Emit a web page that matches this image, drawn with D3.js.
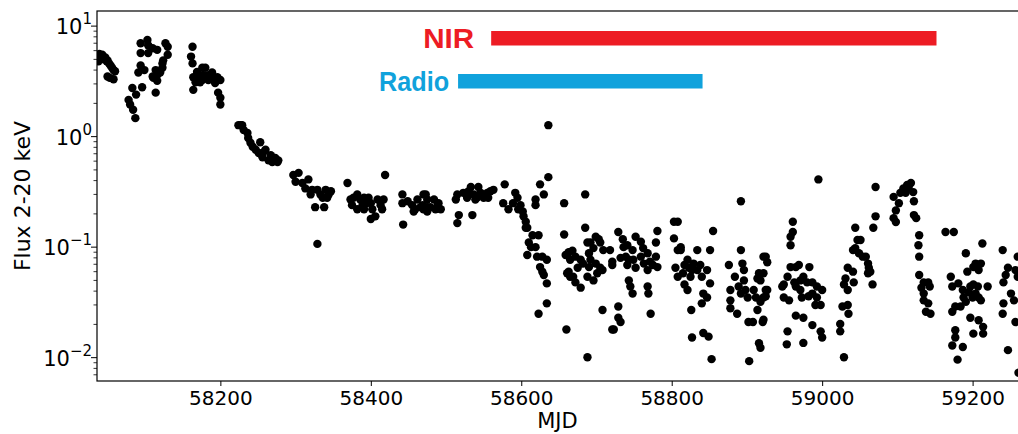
<!DOCTYPE html>
<html>
<head>
<meta charset="utf-8">
<script src="https://cdn.jsdelivr.net/npm/d3@7"></script>
<style>
body { margin: 0; background: #fff; }
svg { display: block; }
</style>
</head>
<body>
<div id="wrapper"></div>
<script>
// [MJD, flux 2-20 keV]
const xray = [
  [58037,5.2],[58038,4.8],[58039,5.6],[58041,5.4],[58043,5.5],[58045,5.0],[58047,5.2],[58049,4.8],[58050,4.9],[58052,4.6],[58054,4.4],[58056,4.2],[58058,4.0],[58060,3.9],[58050,3.5],[58053,3.4],[58058,3.3],
  [58078,2.15],[58080,1.95],[58083,2.75],[58084,1.75],[58087,1.47],[58088,2.4],[58091,3.8],[58094,4.4],[58094,7.0],[58094,5.7],[58096,2.8],[58099,4.0],[58103,7.5],[58104,6.7],[58104,5.7],[58110,6.3],[58110,3.5],[58111,3.4],[58114,4.0],[58114,2.5],[58116,6.1],[58116,3.2],[58116,3.6],[58120,3.8],[58123,4.2],[58123,4.6],[58124,4.9],[58127,7.0],[58130,6.5],[58130,5.5],
  [58161,5.3],[58163,6.5],[58163,4.6],[58164,2.65],[58164,3.45],[58167,3.1],[58169,3.85],[58171,3.45],[58173,3.1],[58176,4.2],[58176,3.25],[58177,3.6],[58180,4.2],[58180,3.45],[58184,3.6],[58184,3.25],[58189,3.8],[58191,3.25],[58193,3.05],[58196,3.45],[58197,2.5],[58200,3.25],[58200,2.25],[58200,1.95],
  [58224,1.27],[58227,1.27],[58229,1.27],[58231,1.15],[58236,1.08],[58237,0.97],[58240,0.88],[58243,0.81],[58247,0.76],[58251,0.71],[58253,0.89],[58256,0.65],[58257,0.72],[58260,0.76],[58264,0.61],[58267,0.68],[58269,0.59],[58271,0.64],[58273,0.64],[58276,0.59],[58277,0.61],
  [58297,0.45],[58300,0.39],[58304,0.47],[58309,0.38],[58313,0.34],[58317,0.41],[58320,0.3],[58322,0.33],[58326,0.23],[58329,0.33],[58329,0.107],[58333,0.3],[58336,0.28],[58338,0.23],[58340,0.33],[58342,0.28],[58344,0.3],[58347,0.32],
  [58369,0.38],[58373,0.27],[58375,0.24],[58377,0.28],[58382,0.3],[58382,0.22],[58386,0.27],[58389,0.24],[58391,0.28],[58391,0.22],[58393,0.25],[58397,0.28],[58400,0.25],[58400,0.18],[58402,0.22],[58406,0.19],[58409,0.27],[58413,0.24],[58415,0.22],[58417,0.27],[58419,0.45],
  [58442,0.3],[58442,0.25],[58443,0.16],[58449,0.26],[58455,0.24],[58457,0.21],[58459,0.22],[58462,0.27],[58466,0.23],[58469,0.24],[58470,0.3],[58470,0.22],[58473,0.3],[58475,0.27],[58475,0.23],[58475,0.21],[58479,0.23],[58484,0.27],[58486,0.22],[58489,0.24],[58490,0.25],[58493,0.22],
  [58513,0.27],[58515,0.3],[58515,0.165],[58517,0.195],[58523,0.31],[58528,0.28],[58530,0.32],[58533,0.35],[58535,0.195],[58537,0.3],[58539,0.27],[58541,0.28],[58543,0.35],[58546,0.31],[58550,0.28],[58555,0.31],[58556,0.28],[58559,0.32],[58563,0.33],
  [58576,0.25],[58578,0.37],[58583,0.22],[58589,0.25],[58592,0.31],[58595,0.28],[58596,0.22],[58599,0.24],[58602,0.21],[58603,0.19],[58606,0.17],[58606,0.15],[58608,0.15],[58608,0.085],[58610,0.11],[58613,0.1],[58615,0.128],[58619,0.1],[58619,0.27],[58619,0.24],[58621,0.082],[58623,0.128],[58623,0.025],[58625,0.066],[58625,0.37],[58628,0.082],[58628,0.06],[58630,0.056],[58630,0.3],[58634,0.077],[58634,0.047],[58634,0.031],[58636,1.27],[58636,0.43],
  [58657,0.25],[58657,0.13],[58659,0.085],[58660,0.018],[58661,0.058],[58663,0.09],[58663,0.06],[58665,0.077],[58665,0.054],[58668,0.093],[58669,0.054],[58672,0.082],[58672,0.048],[58675,0.065],[58679,0.077],[58679,0.043],[58682,0.071],[58685,0.3],[58685,0.15],[58688,0.11],[58688,0.054],[58688,0.0101],[58690,0.088],[58690,0.066],[58692,0.077],[58692,0.11],[58696,0.098],[58696,0.05],[58699,0.124],[58699,0.071],[58701,0.058],[58703,0.118],[58705,0.065],[58705,0.11],[58708,0.062],[58708,0.027],[58709,0.094],[58718,0.094],[58721,0.069],[58721,0.074],[58721,0.018],[58723,0.018],[58729,0.137],[58729,0.029],[58729,0.023],[58732,0.021],[58732,0.08],[58735,0.118],[58736,0.1],[58739,0.082],[58741,0.104],[58741,0.069],[58743,0.077],[58743,0.05],[58745,0.044],[58748,0.094],[58748,0.038],[58749,0.077],[58752,0.124],[58752,0.065],[58759,0.112],[58759,0.082],[58762,0.098],[58763,0.071],[58768,0.088],[58768,0.062],[58768,0.044],[58769,0.038],[58771,0.074],[58772,0.025],[58775,0.069],[58779,0.11],[58779,0.082],[58781,0.066],[58781,0.14],
  [58803,0.17],[58808,0.17],[58803,0.12],[58805,0.065],[58808,0.054],[58808,0.094],[58812,0.1],[58812,0.094],[58815,0.058],[58817,0.069],[58817,0.046],[58821,0.041],[58821,0.077],[58823,0.065],[58825,0.054],[58826,0.027],[58827,0.0152],[58827,0.062],[58829,0.071],[58834,0.094],[58834,0.062],[58838,0.069],[58840,0.054],[58840,0.031],[58842,0.038],[58842,0.0167],[58847,0.062],[58847,0.035],[58849,0.0155],[58851,0.047],[58851,0.094],[58853,0.0097],[58855,0.14],
  [58876,0.069],[58878,0.041],[58878,0.033],[58878,0.028],[58884,0.054],[58887,0.025],[58889,0.044],[58892,0.26],[58892,0.094],[58892,0.038],[58894,0.071],[58896,0.062],[58896,0.05],[58898,0.041],[58901,0.035],[58902,0.021],[58903,0.0093],[58908,0.021],[58909,0.041],[58912,0.035],[58914,0.052],[58914,0.027],[58916,0.058],[58916,0.0135],[58918,0.0123],[58918,0.032],[58918,0.05],[58921,0.021],[58922,0.058],[58922,0.082],[58922,0.035],[58922,0.022],[58925,0.082],[58925,0.041],[58925,0.036],[58927,0.073],[58927,0.041],
  [58947,0.044],[58949,0.046],[58949,0.035],[58953,0.0132],[58954,0.054],[58954,0.0173],[58956,0.033],[58958,0.124],[58958,0.104],[58958,0.066],[58961,0.17],[58961,0.137],[58963,0.048],[58965,0.066],[58965,0.044],[58965,0.024],[58969,0.069],[58971,0.05],[58971,0.041],[58973,0.035],[58975,0.054],[58975,0.023],[58975,0.0136],[58980,0.048],[58982,0.036],[58983,0.066],[58987,0.048],[58987,0.038],[58987,0.0197],[58991,0.03],[58993,0.035],[58993,0.044],[58995,0.41],[58998,0.03],[58998,0.0173],[59000,0.041],[59000,0.0152],
  [59024,0.0202],[59024,0.0173],[59027,0.029],[59029,0.0101],[59029,0.046],[59031,0.052],[59034,0.03],[59034,0.065],[59034,0.041],[59035,0.025],[59041,0.06],[59041,0.094],[59042,0.048],[59044,0.098],[59044,0.15],[59047,0.116],[59049,0.088],[59051,0.116],[59054,0.082],[59058,0.082],[59061,0.071],[59061,0.058],[59062,0.065],[59064,0.06],[59067,0.046],[59068,0.15],[59071,0.19],[59071,0.35],
  [59095,0.285],[59095,0.183],[59098,0.215],[59098,0.169],[59102,0.25],[59104,0.31],[59108,0.34],[59111,0.31],[59113,0.365],[59115,0.35],[59118,0.38],[59121,0.315],[59122,0.26],[59122,0.195],[59125,0.183],[59128,0.104],[59129,0.128],[59129,0.082],[59129,0.056],[59132,0.043],[59135,0.048],[59135,0.038],[59135,0.033],[59138,0.026],[59141,0.048],[59141,0.031],[59143,0.044],[59144,0.025],
  [59164,0.137],[59171,0.054],[59173,0.044],[59173,0.026],[59173,0.0129],[59175,0.137],[59177,0.029],[59177,0.0177],[59177,0.0152],[59180,0.0096],[59181,0.047],[59184,0.029],[59187,0.041],[59187,0.0125],[59188,0.035],[59191,0.032],[59191,0.088],[59193,0.06],[59195,0.039],[59197,0.044],[59197,0.023],[59200,0.035],[59201,0.046],[59201,0.066],[59201,0.0165],[59204,0.038],[59204,0.071],[59207,0.044],[59208,0.035],[59208,0.062],[59208,0.0218],[59211,0.033],[59211,0.071],[59213,0.108],[59214,0.0165],[59214,0.019],[59220,0.044],
  [59240,0.094],[59240,0.025],[59241,0.048],[59241,0.031],[59244,0.056],[59247,0.065],[59247,0.0117],[59251,0.038],[59255,0.033],[59257,0.021],[59257,0.062],[59260,0.082],[59260,0.054],[59261,0.0073]
];

const xTicks = [58200, 58400, 58600, 58800, 59000, 59200];
const yTicks = [0.01, 0.1, 1, 10];
const yTickExp = ["\u22122", "\u22121", "0", "1"];

// observing windows drawn as bars
const bandNames = ["NIR", "Radio"];
const bandStart = [58560, 58516];
const bandEnd = [59152, 58841];
const bandColors = ["#ed1c24", "#10a2dc"];

const dim = {
  width: 1018,
  height: 434,
  margin: { left: 97, right: -5, top: 11, bottom: 53 }
};
const plotRight = dim.width - dim.margin.right;
const plotBottom = dim.height - dim.margin.bottom;
const font = "'DejaVu Sans', sans-serif";

const svg = d3.select("#wrapper").append("svg")
  .attr("width", dim.width)
  .attr("height", dim.height)
  .style("font-family", font);

const x = d3.scaleLinear().domain([58036, 59267]).range([dim.margin.left, plotRight]);
const y = d3.scaleLog().domain([0.00615, 13.7]).range([plotBottom, dim.margin.top]);

// clip for the points
svg.append("clipPath").attr("id", "clip")
  .append("rect")
  .attr("x", dim.margin.left).attr("y", dim.margin.top)
  .attr("width", plotRight - dim.margin.left).attr("height", plotBottom - dim.margin.top);

// points
svg.append("g").attr("clip-path", "url(#clip)")
  .selectAll("circle")
  .data(xray)
  .join("circle")
  .attr("cx", d => x(d[0]))
  .attr("cy", d => y(d[1]))
  .attr("r", 4.2)
  .attr("fill", "#000");

// bars for NIR / Radio coverage
const barY = [31, 74];
const barH = 14.5;
const labelGap = [17, 9];
const labelWidth = [51, 70];
const bands = bandNames.map((n, i) => ({
  name: n, start: bandStart[i], end: bandEnd[i], color: bandColors[i],
  y: barY[i], gap: labelGap[i], w: labelWidth[i]
}));

svg.append("g").selectAll("rect")
  .data(bands)
  .join("rect")
  .attr("x", d => x(d.start))
  .attr("y", d => d.y)
  .attr("width", d => x(d.end) - x(d.start))
  .attr("height", barH)
  .attr("fill", d => d.color);

svg.append("g").selectAll("text")
  .data(bands)
  .join("text")
  .attr("x", d => x(d.start) - d.gap - d.w)
  .attr("y", d => d.y + barH / 2 + 10)
  .attr("textLength", d => d.w)
  .attr("lengthAdjust", "spacingAndGlyphs")
  .style("font-family", "'Liberation Sans', Arial, sans-serif")
  .style("font-weight", "bold")
  .style("font-size", "28px")
  .attr("fill", d => d.color)
  .text(d => d.name);

// x axis
const xAxis = d3.axisBottom(x)
  .tickValues(xTicks)
  .tickFormat(d3.format("d"))
  .tickSize(5)
  .tickPadding(5);

const gx = svg.append("g")
  .attr("transform", `translate(0,${plotBottom})`)
  .call(xAxis)
  .attr("font-family", null)
  .attr("font-size", null);
gx.select(".domain").remove();
gx.selectAll("line").attr("stroke-width", 1);
gx.selectAll("text").style("font-family", font).style("font-size", "20px").attr("fill", "#000");

// y axis: major and minor ticks
const minor = [];
for (let k = -3; k <= 1; k++) {
  for (let m = 2; m <= 9; m++) {
    const v = m * Math.pow(10, k);
    if (v > y.domain()[0] && v < y.domain()[1]) minor.push(v);
  }
}

const gy = svg.append("g");
gy.selectAll("line.minor")
  .data(minor)
  .join("line")
  .attr("class", "minor")
  .attr("x1", dim.margin.left - 3.5).attr("x2", dim.margin.left)
  .attr("y1", d => y(d)).attr("y2", d => y(d))
  .attr("stroke", "#000").attr("stroke-width", 0.8);

gy.selectAll("line.major")
  .data(yTicks)
  .join("line")
  .attr("class", "major")
  .attr("x1", dim.margin.left - 6).attr("x2", dim.margin.left)
  .attr("y1", d => y(d)).attr("y2", d => y(d))
  .attr("stroke", "#000").attr("stroke-width", 1);

const ylab = gy.selectAll("text")
  .data(yTicks)
  .join("text")
  .attr("x", dim.margin.left - 5)
  .attr("y", d => y(d) + 8)
  .attr("text-anchor", "end")
  .style("font-size", "21px");
ylab.append("tspan").text("10");
ylab.append("tspan")
  .attr("dy", -10)
  .style("font-size", "15px")
  .text((d, i) => yTickExp[i]);

// frame
svg.append("rect")
  .attr("x", dim.margin.left).attr("y", dim.margin.top)
  .attr("width", plotRight - dim.margin.left).attr("height", plotBottom - dim.margin.top)
  .attr("fill", "none")
  .attr("stroke", "#000")
  .attr("stroke-width", 1.2);

// axis labels
svg.append("text")
  .attr("x", (dim.margin.left + dim.width) / 2)
  .attr("y", 428)
  .attr("text-anchor", "middle")
  .style("font-size", "21px")
  .text("MJD");

svg.append("text")
  .attr("transform", `translate(30,${(dim.margin.top + plotBottom) / 2}) rotate(-90)`)
  .attr("text-anchor", "middle")
  .style("font-size", "22px")
  .text("Flux 2-20 keV");
</script>
</body>
</html>
